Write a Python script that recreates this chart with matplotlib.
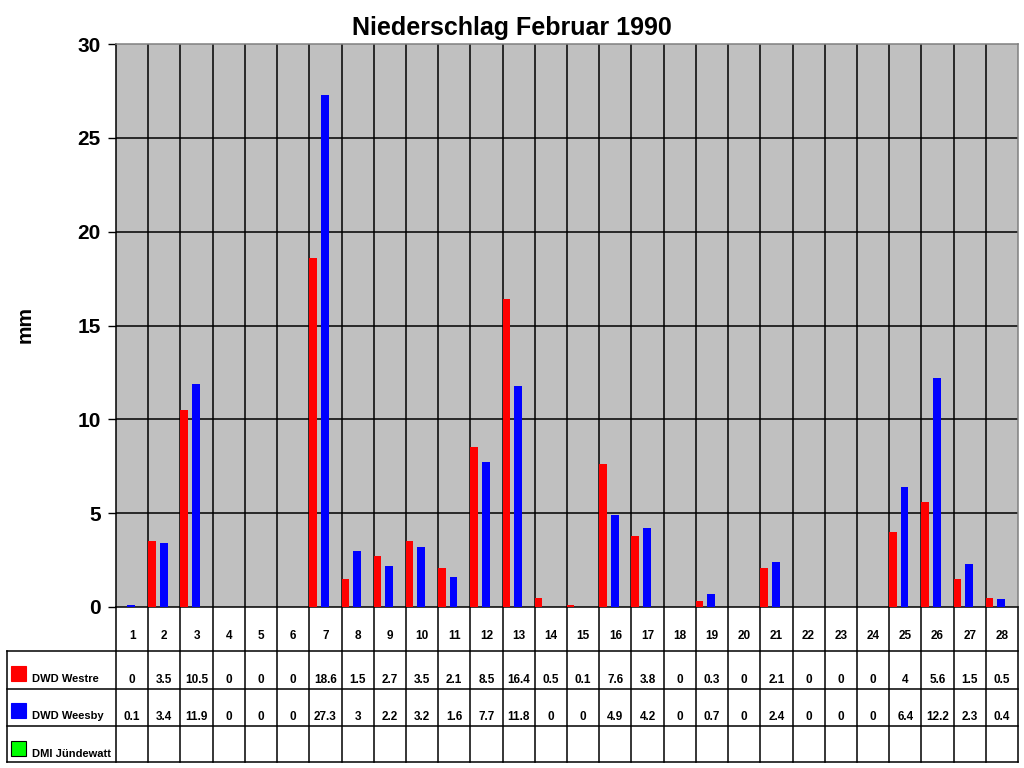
import numpy as np
import matplotlib
matplotlib.use("Agg")
import matplotlib.pyplot as plt
from matplotlib.transforms import blended_transform_factory
from matplotlib.patches import Rectangle

plt.rcParams["font.family"] = ["Liberation Sans", "DejaVu Sans"]

days = np.arange(1, 29)
westre = [0, 3.5, 10.5, 0, 0, 0, 18.6, 1.5, 2.7, 3.5, 2.1, 8.5, 16.4, 0.5,
          0.1, 7.6, 3.8, 0, 0.3, 0, 2.1, 0, 0, 0, 4, 5.6, 1.5, 0.5]
weesby = [0.1, 3.4, 11.9, 0, 0, 0, 27.3, 3, 2.2, 3.2, 1.6, 7.7, 11.8, 0,
          0, 4.9, 4.2, 0, 0.7, 0, 2.4, 0, 0, 0, 6.4, 12.2, 2.3, 0.4]
juendewatt = [None] * 28
series_names = ["DWD Westre", "DWD Weesby", "DMI Jündewatt"]
series_colors = ["#ff0000", "#0000ff", "#00ff00"]
yticks = [0, 5, 10, 15, 20, 25, 30]

W, H = 1024, 768
fig = plt.figure(figsize=(W / 100, H / 100), dpi=100)

# pixel overlay for table and labels
ov = fig.add_axes([0, 0, 1, 1])
ov.set_xlim(0, W)
ov.set_ylim(H, 0)
ov.axis("off")

left, right, top, bottom = 116, 1018, 44, 607
ax = fig.add_axes([left / W, (H - bottom) / H, (right - left) / W, (bottom - top) / H])
ax.set_facecolor("#c0c0c0")
ax.set_xlim(0.5, 28.5)
ax.set_ylim(0, 30)

ax.bar(days - 0.5, westre, width=0.23, align="edge", color=series_colors[0], zorder=3)
ax.bar(days - 0.5 + 0.355, weesby, width=0.245, align="edge", color=series_colors[1], zorder=3)

for b in days[:-1] + 0.5:
    ax.axvline(b, color="black", lw=1.1, zorder=1)
for t in yticks[1:-1]:
    ax.axhline(t, color="black", lw=1.1, zorder=1)

ax.set_yticks(yticks)
ax.set_yticklabels([str(t) for t in yticks], fontsize=15, fontweight="bold")
ax.tick_params(axis="y", direction="out", length=6, width=1, pad=5)
ax.set_xticks([])
ax.spines["top"].set_color("#808080")
ax.spines["right"].set_color("#808080")
ax.spines["left"].set_color("black")
ax.spines["bottom"].set_color("black")
for s in ax.spines.values():
    s.set_linewidth(1.1)

fig.text(25 / W, 1 - 325 / H, "mm", rotation=90, ha="center", va="center",
         fontsize=15, fontweight="bold")
fig.text(512 / W, 1 - 28 / H, "Niederschlag Februar 1990", ha="center", va="center",
         fontsize=18, fontweight="bold")

# table below the plot
tr = blended_transform_factory(ax.transData, ov.transData)
row_lines = [607, 651, 689, 726, 762]
lw = 1.1
for y in row_lines[1:]:
    ov.plot([7, right], [y, y], color="black", lw=lw)
ov.plot([7, 7], [651, 762], color="black", lw=lw)
ov.plot([left, left], [607, 762], color="black", lw=lw)
ov.plot([right, right], [607, 762], color="black", lw=lw)
for b in days[:-1] + 0.5:
    ov.plot([b, b], [607, 762], color="black", lw=lw, transform=tr)

for d in days:
    ov.text(d, 636, str(d), transform=tr, ha="center", va="center",
            fontsize=8.5, fontweight="bold")

value_rows = [westre, weesby, juendewatt]
value_y = [680, 717, 754]
for vals, y in zip(value_rows, value_y):
    for d, v in zip(days, vals):
        if v is None:
            continue
        ov.text(d, y, f"{v:g}", transform=tr, ha="center", va="center",
                fontsize=8.5, fontweight="bold")

key_y = [666, 703, 741]
for name, col, ky in zip(series_names, series_colors, key_y):
    edge = "black" if col == "#00ff00" else col
    ov.add_patch(Rectangle((11, ky), 15, 15, facecolor=col, edgecolor=edge, lw=0.8))
    ov.text(32, ky + 16, name, ha="left", va="baseline", fontsize=8, fontweight="bold")

fig.savefig("out.png", dpi=100)
